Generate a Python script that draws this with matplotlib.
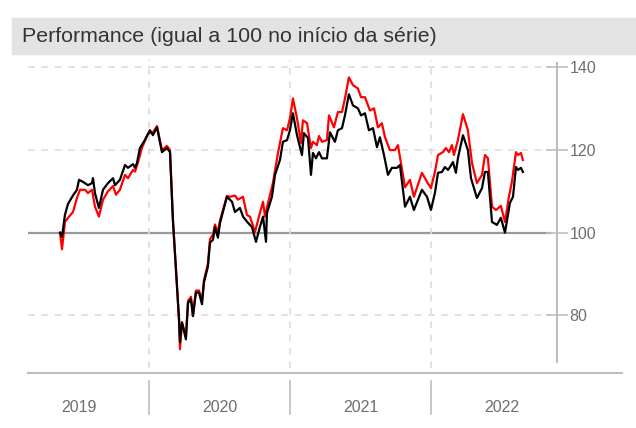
import matplotlib
matplotlib.use("Agg")
import matplotlib.pyplot as plt
from matplotlib.lines import Line2D
from matplotlib.patches import Rectangle

plt.rcParams['font.family'] = ['Liberation Sans', 'DejaVu Sans']

# tempo em anos decimais
ano_preto = [2019.369, 2019.383, 2019.404, 2019.426, 2019.461, 2019.489, 2019.504, 2019.532,
             2019.567, 2019.596, 2019.603, 2019.617, 2019.645, 2019.674, 2019.709, 2019.745,
             2019.759, 2019.794, 2019.830, 2019.851, 2019.887, 2019.901, 2019.915, 2019.936,
             2019.972, 2020.007, 2020.028, 2020.057, 2020.092, 2020.128, 2020.149, 2020.170,
             2020.199, 2020.213, 2020.220, 2020.234, 2020.262, 2020.277, 2020.298, 2020.312,
             2020.333, 2020.355, 2020.376, 2020.390, 2020.418, 2020.433, 2020.454, 2020.468,
             2020.489, 2020.504, 2020.553, 2020.589, 2020.610, 2020.645, 2020.667, 2020.702,
             2020.730, 2020.759, 2020.787, 2020.809, 2020.830, 2020.837, 2020.872, 2020.894,
             2020.929, 2020.950, 2020.979, 2021.000, 2021.021, 2021.050, 2021.085, 2021.099,
             2021.128, 2021.149, 2021.163, 2021.184, 2021.206, 2021.227, 2021.262, 2021.284,
             2021.319, 2021.340, 2021.369, 2021.390, 2021.418, 2021.447, 2021.482, 2021.504,
             2021.532, 2021.560, 2021.589, 2021.617, 2021.638, 2021.667, 2021.695, 2021.723,
             2021.759, 2021.780, 2021.816, 2021.851, 2021.879, 2021.936, 2021.972, 2022.000,
             2022.028, 2022.050, 2022.078, 2022.099, 2022.121, 2022.135, 2022.156, 2022.177,
             2022.191, 2022.227, 2022.262, 2022.284, 2022.326, 2022.362, 2022.383, 2022.404,
             2022.433, 2022.468, 2022.496, 2022.525, 2022.560, 2022.582, 2022.603, 2022.617,
             2022.638, 2022.652]
preto = [100, 99, 104.3, 107, 109, 110.4, 112.8, 112.3,
         111.5, 112, 113.2, 109.6, 106, 110.4, 112, 113.2,
         111.5, 112.8, 116.4, 115.7, 116.6, 115.7, 116.9, 120.5,
         122.5, 124.8, 123.6, 125.5, 119.5, 120.5, 119.5, 103,
         87, 79, 73.5, 78.3, 74.2, 83, 83.9, 79.8,
         85.5, 85.5, 82.7, 88, 91.8, 97.6, 98.3, 101.4,
         98.8, 102.4, 108.7, 107.5, 105, 106, 103.9, 102.4,
         101.4, 97.8, 101.4, 103.9, 97.8, 104.8, 108.7, 114,
         117.6, 122, 122.4, 124.8, 128.9, 123.6, 118.8, 124.1,
         122.9, 114, 119.3, 118, 119.5, 118, 118, 124.3,
         122, 124.8, 125.3, 128.4, 133.5, 130.8, 130.1, 128.4,
         128.9, 124.8, 125.3, 120.7, 123.1, 118.8, 114, 115.7,
         115.7, 116.4, 106.3, 108.7, 105.5, 110.4, 108.7, 105.5,
         109.6, 114.5, 114.7, 115.9, 115.2, 115.9, 117.1, 114.5,
         118, 123.6, 120, 113.2, 108.4, 110.8, 114.7, 114.7,
         102.6, 101.9, 103.6, 100, 107.2, 108.7, 115.9, 115.2,
         115.7, 114.7]

ano_vermelho = [2019.369, 2019.383, 2019.404, 2019.426, 2019.461, 2019.489, 2019.511, 2019.546,
                2019.567, 2019.596, 2019.617, 2019.645, 2019.674, 2019.709, 2019.745, 2019.766,
                2019.794, 2019.830, 2019.851, 2019.887, 2019.901, 2019.922, 2019.950, 2019.993,
                2020.028, 2020.057, 2020.092, 2020.128, 2020.149, 2020.170, 2020.199, 2020.213,
                2020.220, 2020.234, 2020.262, 2020.277, 2020.298, 2020.312, 2020.333, 2020.355,
                2020.376, 2020.390, 2020.418, 2020.433, 2020.454, 2020.468, 2020.489, 2020.504,
                2020.553, 2020.574, 2020.610, 2020.631, 2020.667, 2020.695, 2020.716, 2020.752,
                2020.787, 2020.809, 2020.823, 2020.844, 2020.879, 2020.915, 2020.950, 2020.979,
                2021.000, 2021.021, 2021.050, 2021.078, 2021.092, 2021.121, 2021.149, 2021.163,
                2021.191, 2021.206, 2021.227, 2021.262, 2021.277, 2021.312, 2021.340, 2021.369,
                2021.390, 2021.418, 2021.447, 2021.482, 2021.504, 2021.532, 2021.567, 2021.596,
                2021.624, 2021.652, 2021.674, 2021.709, 2021.745, 2021.766, 2021.816, 2021.851,
                2021.879, 2021.936, 2021.972, 2022.000, 2022.028, 2022.050, 2022.085, 2022.106,
                2022.128, 2022.149, 2022.163, 2022.191, 2022.227, 2022.262, 2022.291, 2022.326,
                2022.362, 2022.383, 2022.404, 2022.433, 2022.461, 2022.496, 2022.525, 2022.553,
                2022.574, 2022.603, 2022.617, 2022.638, 2022.652]
vermelho = [100, 96, 102.6, 103.6, 105, 108.4, 110.4, 110.4,
            109.6, 110.4, 106.3, 103.9, 108, 110, 111.3, 109.2,
            110.4, 114, 113.2, 115.2, 114.8, 117, 120.5, 124,
            124.3, 125.8, 120, 121, 120, 103, 87, 79,
            71.8, 78.3, 75, 83.5, 84.5, 80, 86, 86,
            83.5, 88.5, 92.5, 98.5, 99.5, 102, 100, 103,
            108.9, 108.7, 109, 108, 108.7, 104.3, 103.9, 100.2,
            104.8, 107.5, 103.9, 107.2, 112, 119.3, 125.3, 124.8,
            127.7, 132.5, 127.7, 121.7, 127.2, 126.5, 120.5, 122,
            121.2, 123.4, 122, 122.4, 128.4, 125.5, 129.2, 129.2,
            132.5, 137.6, 135.7, 134.9, 132.8, 132.8, 129.6, 130.1,
            125.5, 126.5, 123.1, 120, 120, 121.2, 111, 112.8,
            108.7, 114.5, 112.3, 110.8, 114.7, 118.8, 119.5, 120.5,
            119.5, 121.2, 118.8, 122.4, 128.7, 124.8, 116.9, 112,
            114, 118.8, 118, 106.3, 105.5, 106.5, 102.6, 108.7,
            112.3, 119.5, 118.8, 119.3, 117.6]

anos = [2019, 2020, 2021, 2022]
marcas_y = [80, 100, 120, 140]
titulo = "Performance (igual a 100 no início da série)"

cinza_eixo = "#bdbdbd"
cinza_texto = "#6e6e6e"

W, H = 636, 428
fig = plt.figure(figsize=(W / 100, H / 100), dpi=100)
ax = fig.add_axes([28 / W, (H - 373) / H, (557 - 28) / W, (373 - 60) / H])
ax.set_xlim(2019.142, 2022.894)
ax.set_ylim(66.05, 141.8)

for s in ["top", "left", "bottom"]:
    ax.spines[s].set_visible(False)
ax.spines["right"].set_color(cinza_eixo)
ax.spines["right"].set_linewidth(1.5)
ax.spines["right"].set_bounds(68.7, 141.1)

# grades
for v in marcas_y:
    if v == 100:
        ax.axhline(v, xmax=0.987, color="#999999", lw=1.6, zorder=1)
    else:
        ax.axhline(v, xmax=0.987, color="#dddddd", lw=1.2, ls=(0, (4, 4)), zorder=1)
for a in anos[1:]:
    ax.axvline(a, ymin=0.017, color="#dddddd", lw=1.2, ls=(0, (4, 4)), zorder=1)

ax.plot(ano_vermelho, vermelho, color="#ff0000", lw=1.6, zorder=3)
ax.plot(ano_preto, preto, color="black", lw=1.6, zorder=4)

ax.yaxis.tick_right()
ax.set_yticks(marcas_y)
ax.tick_params(axis="y", direction="inout", length=16, width=1.2, color=cinza_eixo,
               labelcolor=cinza_texto, labelsize=11.5, pad=1)
ax.set_xticks([])

# linha de base e rótulos dos anos
fig.add_artist(Line2D([28 / W, 622 / W], [(H - 373) / H] * 2, color=cinza_eixo, lw=1.5))
for a in anos:
    ax.text(a + 0.5, -0.11, str(a), transform=ax.get_xaxis_transform(), ha="center",
            va="center", color=cinza_texto, fontsize=11.5)
for a in anos[1:]:
    ax.plot([a, a], [-0.025, -0.13], transform=ax.get_xaxis_transform(), color=cinza_eixo,
            lw=1.2, clip_on=False)

# faixa do título
fig.add_artist(Rectangle((12 / W, (H - 54) / H), 1, 36 / H, transform=fig.transFigure,
                         color="#e3e3e3", zorder=0))
fig.text(22 / W, (H - 37) / H, titulo, ha="left", va="center", fontsize=15.4, color="#333333")

fig.savefig("out.png", dpi=100)
